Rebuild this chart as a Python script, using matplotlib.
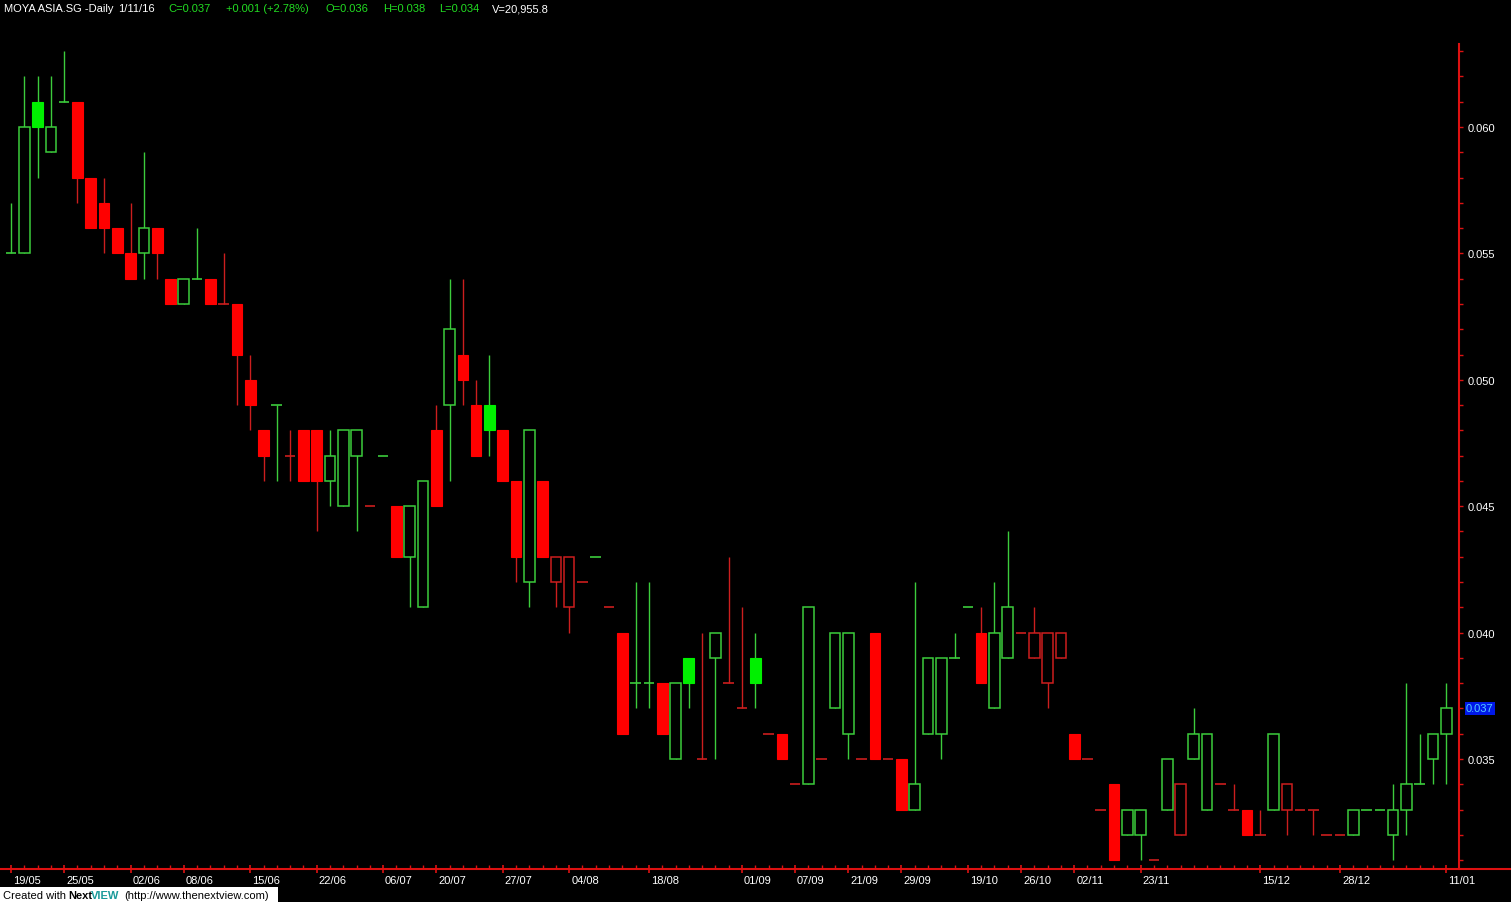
import numpy as np
import matplotlib
matplotlib.use('Agg')
import matplotlib.pyplot as plt
import matplotlib.transforms as mtransforms
from matplotlib.patches import Rectangle

# daily bars (open, high, low, close)
opens = [0.055, 0.055, 0.061, 0.059, 0.061, 0.061, 0.058, 0.057, 0.056, 0.055,
         0.055, 0.056, 0.054, 0.053, 0.054, 0.054, 0.053, 0.053, 0.050, 0.048,
         0.049, 0.047, 0.048, 0.048, 0.046, 0.045, 0.047, 0.045, 0.047, 0.045,
         0.043, 0.041, 0.048, 0.049, 0.051, 0.049, 0.049, 0.048, 0.046, 0.042,
         0.046, 0.042, 0.041, 0.042, 0.043, 0.041, 0.040, 0.038, 0.038, 0.038,
         0.035, 0.039, 0.035, 0.039, 0.038, 0.037, 0.039, 0.036, 0.036, 0.034,
         0.034, 0.035, 0.037, 0.036, 0.035, 0.040, 0.035, 0.035, 0.033, 0.036,
         0.036, 0.039, 0.041, 0.040, 0.037, 0.039, 0.040, 0.039, 0.038, 0.039,
         0.036, 0.035, 0.033, 0.034, 0.032, 0.032, 0.031, 0.033, 0.032, 0.035,
         0.033, 0.034, 0.033, 0.033, 0.032, 0.033, 0.033, 0.033, 0.033, 0.032,
         0.032, 0.032, 0.033, 0.033, 0.032, 0.033, 0.034, 0.035, 0.036]
highs = [0.057, 0.062, 0.062, 0.062, 0.063, 0.061, 0.058, 0.058, 0.056, 0.057,
         0.059, 0.056, 0.054, 0.054, 0.056, 0.054, 0.055, 0.053, 0.051, 0.048,
         0.049, 0.048, 0.048, 0.048, 0.048, 0.048, 0.048, 0.045, 0.047, 0.045,
         0.045, 0.046, 0.049, 0.054, 0.054, 0.050, 0.051, 0.048, 0.046, 0.048,
         0.046, 0.043, 0.043, 0.042, 0.043, 0.041, 0.040, 0.042, 0.042, 0.038,
         0.038, 0.039, 0.040, 0.040, 0.043, 0.041, 0.040, 0.036, 0.036, 0.034,
         0.041, 0.035, 0.040, 0.040, 0.035, 0.040, 0.035, 0.035, 0.042, 0.039,
         0.039, 0.040, 0.041, 0.041, 0.042, 0.044, 0.040, 0.041, 0.040, 0.040,
         0.036, 0.035, 0.033, 0.034, 0.033, 0.033, 0.031, 0.035, 0.034, 0.037,
         0.036, 0.034, 0.034, 0.033, 0.033, 0.036, 0.034, 0.033, 0.033, 0.032,
         0.032, 0.033, 0.033, 0.033, 0.034, 0.038, 0.036, 0.036, 0.038]
lows = [0.055, 0.055, 0.058, 0.059, 0.061, 0.057, 0.056, 0.055, 0.055, 0.054,
        0.054, 0.054, 0.053, 0.053, 0.054, 0.053, 0.053, 0.049, 0.048, 0.046,
        0.046, 0.046, 0.046, 0.044, 0.045, 0.045, 0.044, 0.045, 0.047, 0.043,
        0.041, 0.041, 0.045, 0.046, 0.049, 0.047, 0.047, 0.046, 0.042, 0.041,
        0.043, 0.041, 0.040, 0.042, 0.043, 0.041, 0.036, 0.037, 0.037, 0.036,
        0.035, 0.037, 0.035, 0.035, 0.038, 0.037, 0.037, 0.036, 0.035, 0.034,
        0.034, 0.035, 0.037, 0.035, 0.035, 0.035, 0.035, 0.033, 0.033, 0.036,
        0.035, 0.039, 0.041, 0.038, 0.037, 0.039, 0.040, 0.039, 0.037, 0.039,
        0.035, 0.035, 0.033, 0.031, 0.032, 0.031, 0.031, 0.033, 0.032, 0.035,
        0.033, 0.034, 0.033, 0.032, 0.032, 0.033, 0.032, 0.033, 0.032, 0.032,
        0.032, 0.032, 0.033, 0.033, 0.031, 0.032, 0.034, 0.034, 0.034]
closes = [0.055, 0.060, 0.060, 0.060, 0.061, 0.058, 0.056, 0.056, 0.055, 0.054,
          0.056, 0.055, 0.053, 0.054, 0.054, 0.053, 0.053, 0.051, 0.049, 0.047,
          0.049, 0.047, 0.046, 0.046, 0.047, 0.048, 0.048, 0.045, 0.047, 0.043,
          0.045, 0.046, 0.045, 0.052, 0.050, 0.047, 0.048, 0.046, 0.043, 0.048,
          0.043, 0.043, 0.043, 0.042, 0.043, 0.041, 0.036, 0.038, 0.038, 0.036,
          0.038, 0.038, 0.035, 0.040, 0.038, 0.037, 0.038, 0.036, 0.035, 0.034,
          0.041, 0.035, 0.040, 0.040, 0.035, 0.035, 0.035, 0.033, 0.034, 0.039,
          0.039, 0.039, 0.041, 0.038, 0.040, 0.041, 0.040, 0.040, 0.040, 0.040,
          0.035, 0.035, 0.033, 0.031, 0.033, 0.033, 0.031, 0.035, 0.034, 0.036,
          0.036, 0.034, 0.033, 0.032, 0.032, 0.036, 0.034, 0.033, 0.033, 0.032,
          0.032, 0.033, 0.033, 0.033, 0.033, 0.034, 0.034, 0.036, 0.037]

# date labels and the bar they sit under
date_labels = ['19/05', '25/05', '02/06', '08/06', '15/06', '22/06', '06/07',
               '20/07', '27/07', '04/08', '18/08', '01/09', '07/09', '21/09',
               '29/09', '19/10', '26/10', '02/11', '23/11', '15/12', '28/12', '11/01']
date_bars = [0, 4, 9, 13, 18, 23, 28, 32, 37, 42, 48, 55, 59, 63, 67, 72, 76,
             80, 85, 94, 100, 108]

price_ticks = [0.035, 0.040, 0.045, 0.050, 0.055, 0.060]
last_price = 0.037

W, H = 1511, 903
BAR_PX = 13.29
X0_PX = 11

GREEN_LINE = '#3ccc3c'
GREEN_FILL = '#00f000'
RED_LINE = '#cc1e1e'
RED_FILL = '#ff0000'
AXIS_RED = '#dd1111'


def bar_colors(closes):
    # green when close goes up vs previous close, red when down, keep on unchanged
    ups = []
    up = True
    for i, c in enumerate(closes):
        if i > 0:
            if c > closes[i - 1]:
                up = True
            elif c < closes[i - 1]:
                up = False
        ups.append(up)
    return ups


def draw_candles(ax, opens, highs, lows, closes):
    ups = bar_colors(closes)
    body_w = 0.8
    for i, (o, h, l, c, up) in enumerate(zip(opens, highs, lows, closes, ups)):
        line_col = GREEN_LINE if up else RED_LINE
        fill_col = GREEN_FILL if up else RED_FILL
        if h > l:
            ax.vlines(i, l, h, color=line_col, lw=1.0, zorder=2)
        if o == c:
            ax.hlines(o, i - 0.4, i + 0.4, color=line_col, lw=1.2, zorder=3)
        elif c < o:
            ax.add_patch(Rectangle((i - body_w / 2, c), body_w, o - c,
                                   facecolor=fill_col, edgecolor=fill_col,
                                   lw=0.8, zorder=3))
        else:
            ax.add_patch(Rectangle((i - body_w / 2, o), body_w, c - o,
                                   facecolor='black', edgecolor=line_col,
                                   lw=1.1, zorder=3))


def px_to_fig(x, y):
    return x / W, 1 - y / H


def main():
    plt.rcParams['font.family'] = ['Liberation Sans', 'DejaVu Sans']
    fig = plt.figure(figsize=(W / 100, H / 100), dpi=100, facecolor='black')

    top_px, bottom_px = 45, 870
    ax = fig.add_axes([0, 1 - bottom_px / H, 1, (bottom_px - top_px) / H])
    ax.set_facecolor('black')

    # price scale: 0.060 at y=128 px, 25.28 px per 0.001
    ppx = 25.28 / 0.001
    ymax = 0.060 + (128 - top_px) / ppx
    ymin = 0.060 - (bottom_px - 128) / ppx
    ax.set_ylim(ymin, ymax)
    ax.set_xlim(-X0_PX / BAR_PX, (W - X0_PX) / BAR_PX)

    draw_candles(ax, opens, highs, lows, closes)

    for s in ['top', 'left']:
        ax.spines[s].set_visible(False)
    ax.spines['bottom'].set_color(AXIS_RED)
    ax.spines['bottom'].set_linewidth(1.5)
    ax.spines['right'].set_color(AXIS_RED)
    ax.spines['right'].set_linewidth(1.5)
    ax.spines['right'].set_position(('data', (1459 - X0_PX) / BAR_PX))

    # x axis
    ax.set_xticks(date_bars)
    ax.set_xticklabels(date_labels, ha='left')
    ax.set_xticks(np.arange(len(closes)), minor=True)
    ax.tick_params(axis='x', which='major', direction='inout', length=6,
                   width=1.2, color=AXIS_RED, labelcolor='white', labelsize=8, pad=1)
    ax.tick_params(axis='x', which='minor', direction='in', length=3,
                   width=1, color=AXIS_RED)
    offset = mtransforms.ScaledTranslation(2 / 100, 0, fig.dpi_scale_trans)
    for lbl in ax.get_xticklabels():
        lbl.set_transform(lbl.get_transform() + offset)

    # y axis on the right
    ax.yaxis.tick_right()
    ax.set_yticks(price_ticks)
    ax.set_yticklabels([f'{p:.3f}' for p in price_ticks])
    ax.set_yticks(np.arange(0.031, 0.0635, 0.001), minor=True)
    ax.tick_params(axis='y', which='both', direction='out', length=3,
                   width=1, color=AXIS_RED, labelcolor='white', labelsize=8, pad=3)
    ax.text(1.0, last_price, f'{last_price:.3f}', color='#55ccff', fontsize=8,
            va='center', ha='left',
            transform=ax.get_yaxis_transform() + mtransforms.ScaledTranslation(
                -45 / 100, 0, fig.dpi_scale_trans),
            bbox=dict(facecolor='#0018e8', edgecolor='none', pad=0.8),
            clip_on=False, zorder=5)

    # header line
    header = [
        (4, 'MOYA ASIA.SG -Daily', 'white'),
        (118, '1/11/16', 'white'),
        (168, 'C=0.037', '#22dd22'),
        (226, '+0.001 (+2.78%)', '#22dd22'),
        (326, 'O=0.036', '#22dd22'),
        (383, 'H=0.038', '#22dd22'),
        (439, 'L=0.034', '#22dd22'),
        (492, 'V=20,955.8', 'white'),
    ]
    for x, s, col in header:
        fx, fy = px_to_fig(x, 9)
        fig.text(fx, fy, s, color=col, fontsize=8, va='center', ha='left')

    # footer badge
    bx, by = px_to_fig(0, 903)
    fig.patches.append(Rectangle((bx, by), 278 / W, 15 / H, transform=fig.transFigure,
                                 facecolor='white', edgecolor='none', zorder=1))
    fx, fy = px_to_fig(3, 896)
    fig.text(fx, fy, 'Created with', color='black', fontsize=8, va='center', zorder=2)
    fx, _ = px_to_fig(68, 896)
    fig.text(fx, fy, 'Next', color='black', fontsize=8, fontweight='bold',
             va='center', zorder=2)
    fx, _ = px_to_fig(91, 896)
    fig.text(fx, fy, 'VIEW', color='#1a9a9a', fontsize=8, fontweight='bold',
             va='center', zorder=2)
    fx, _ = px_to_fig(124, 896)
    fig.text(fx, fy, '(http://www.thenextview.com)', color='black', fontsize=8,
             va='center', zorder=2)

    fig.savefig('out.png', dpi=100, facecolor='black')


if __name__ == "__main__":
    main()
